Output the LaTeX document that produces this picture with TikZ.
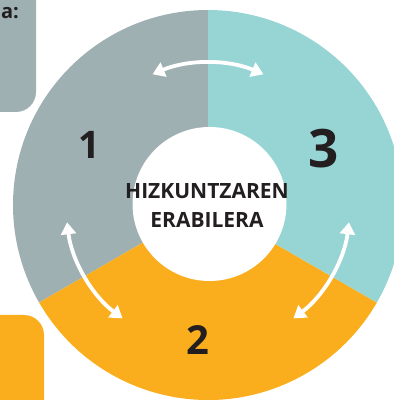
\documentclass[tikz,border=0pt]{standalone}
\usepackage{fontspec}
\setmainfont{Open Sans}
\usetikzlibrary{arrows.meta, calc}
\definecolor{ringgray}{HTML}{9FB0B2}
\definecolor{ringteal}{HTML}{97D5D5}
\definecolor{ringyellow}{HTML}{FBAE1D}
\definecolor{textdark}{HTML}{231F20}
\tikzset{
    number/.style={font=\bfseries\fontsize{40}{40}\selectfont, text=textdark, inner sep=0pt}, % Sector digits
    swap arrow/.style={white, line width=3.8pt, {Triangle[length=12pt,width=15pt]}-{Triangle[length=12pt,width=15pt]}}, % White double arrows
    label box/.style={rounded corners=20pt}, % Side boxes
}

\begin{document}
\begin{tikzpicture}[x=1pt, y=1pt]
    \useasboundingbox (0,0) rectangle (394,400);

    % --- Side boxes ---
    \fill[ringgray, label box] (-30,430) rectangle (36,288);
    \node[anchor=east, inner sep=0pt, font=\bfseries\fontsize{20}{20}\selectfont, text=textdark] (boxtext) at (19,387) {a:};
    \fill[ringyellow, label box] (-30,-30) rectangle (44,85);

    % --- Ring ---
    \coordinate (c) at (208,195);
    \fill[ringgray]   (c) -- ++(90:195) arc (90:210:195) -- cycle;
    \fill[ringyellow] (c) -- ++(210:195) arc (210:330:195) -- cycle;
    \fill[ringteal]   (c) -- ++(330:195) arc (330:450:195) -- cycle;
    \fill[white] (209.5,196) circle (77);

    % --- Labels ---
    \node[number, font=\bfseries\fontsize{38}{38}\selectfont] (one) at (89,255) {1};
    \node[number] (two) at (198,60) {2};
    \node[number, font=\bfseries\fontsize{53}{53}\selectfont] (three) at (324,251) {3};
    \node[align=center, text=textdark, font=\bfseries\fontsize{21}{29}\selectfont] (usage) at (207,195)
        {HIZKUNTZAREN\\ERABILERA};

    % --- Arrows ---
    \coordinate (a12) at ($(c)+(187:142)$);
    \coordinate (a23) at ($(c)+(307:142)$);
    \coordinate (a31) at ($(c)+(67:142)$);
    \draw[swap arrow] (a12) arc (187:233:142);
    \draw[swap arrow] (a23) arc (307:353:142);
    \draw[swap arrow] (a31) arc (67:113:142);

\end{tikzpicture}
\end{document}
